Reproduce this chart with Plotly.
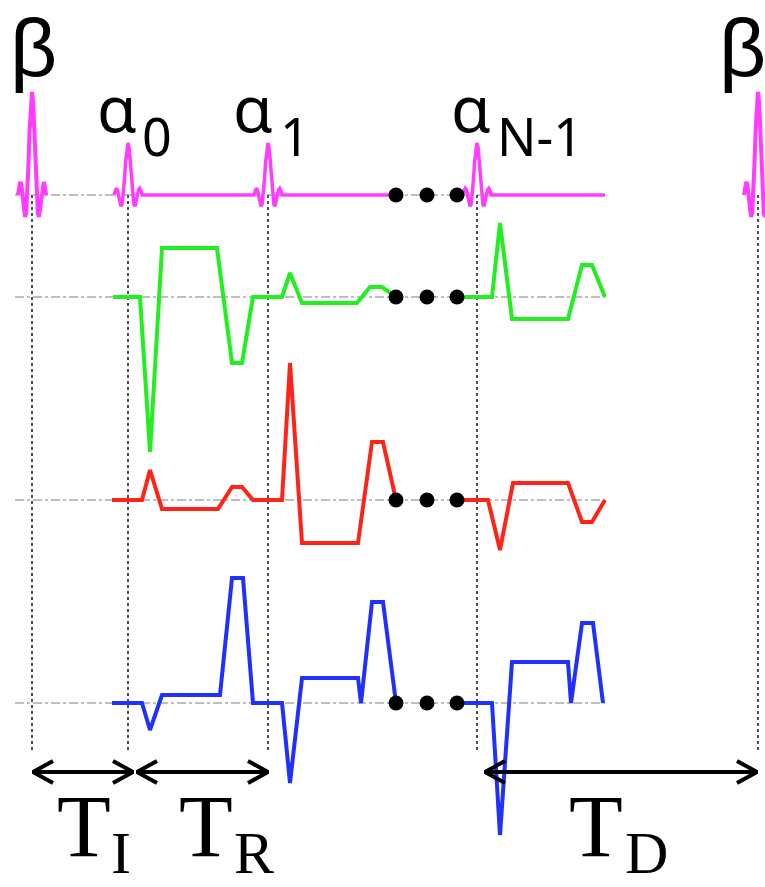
import plotly.graph_objects as go

W, H = 765, 887

# ---------------- data ----------------
# row baselines (vertical position of each channel's zero line)
row_rf, row_g1, row_g2, row_g3 = 195, 297, 500, 703

# RF pulse events: time and relative flip amplitude
pulse_t = [32, 128, 268, 477, 758]
pulse_amp = [103, 52, 52, 52, 103]
pulse_names = ["β", "α", "α", "α", "β"]

# normalized sinc pulse shape (offset units, amplitude)
shape_u = [-3, -2.75, -2.5, -2.25, -2, -1.75, -1.5, -1.25, -1, -0.75, -0.5, -0.25, 0,
           0.25, 0.5, 0.75, 1, 1.25, 1.5, 1.75, 2, 2.25, 2.5, 2.75, 3]
shape_a = [0, 0.082, 0.127, 0.100, 0, -0.129, -0.212, -0.180, 0, 0.300, 0.637, 0.900, 1,
           0.900, 0.637, 0.300, 0, -0.180, -0.212, -0.129, 0, 0.100, 0.127, 0.082, 0]

# RF line segments (start, end) joining pulses
rf_segments = [(114, 396), (457, 605)]

# gradient waveforms: time points and amplitude (positive = up)
g1_t_a = [113, 140, 150, 162, 217, 232, 242, 253, 282, 290, 302, 357, 370, 382, 396]
g1_a_a = [0, 0, -155, 49, 49, -66, -66, 0, 0, 24, -6, -6, 10, 10, 0]
g1_t_b = [457, 492, 500, 512, 568, 582, 592, 605]
g1_a_b = [0, 0, 74, -22, -22, 32, 32, 0]

g2_t_a = [112, 142, 150, 162, 218, 232, 242, 253, 282, 290, 302, 358, 372, 383, 396]
g2_a_a = [0, 0, 30, -9, -9, 13, 13, 0, 0, 137, -43, -43, 58, 58, 0]
g2_t_b = [457, 488, 500, 513, 568, 582, 592, 605]
g2_a_b = [0, 0, -50, 17, 17, -22, -22, 0]

g3_t_a = [112, 142, 150, 162, 220, 232, 243, 253, 282, 290, 302, 358, 361, 372, 383, 396]
g3_a_a = [0, 0, -27, 8, 8, 125, 125, 0, 0, -80, 25, 25, 0, 101, 101, 0]
g3_t_b = [457, 492, 500, 512, 568, 571, 582, 593, 603]
g3_a_b = [0, 0, -132, 41, 41, 0, 80, 80, 0]

# ellipsis dots
dot_t = [396, 427, 457]

# timing intervals
intervals = [("T", "I", 33, 133), ("T", "R", 137, 268), ("T", "D", 485, 757)]

# ---------------- figure ----------------
MAG = "#ff3cff"
GRN = "#22ee22"
RED = "#ff2418"
BLU = "#1f30ff"
LW = 4

fig = go.Figure()

# horizontal dotted baselines
for yb in [row_rf, row_g1, row_g2, row_g3]:
    fig.add_trace(go.Scatter(x=[15, 605], y=[yb, yb], mode="lines",
                             line=dict(color="#aaaaaa", width=1.5, dash="dashdot"),
                             hoverinfo="skip"))

# vertical dotted event lines
for t in pulse_t:
    fig.add_trace(go.Scatter(x=[t, t], y=[row_rf, 752], mode="lines",
                             line=dict(color="#505050", width=2, dash="dot"),
                             hoverinfo="skip"))

# RF pulses
px_per_u = 4.7


def pulse_xy(c, A):
    xs = [c + u * px_per_u for u in shape_u]
    ys = [row_rf - A * a for a in shape_a]
    return xs, ys


# isolated beta pulses
for i in [0, 4]:
    xs, ys = pulse_xy(pulse_t[i], pulse_amp[i])
    fig.add_trace(go.Scatter(x=xs, y=ys, mode="lines",
                             line=dict(color=MAG, width=LW), hoverinfo="skip"))

# alpha pulse train segments
for (s, e) in rf_segments:
    xs, ys = [s], [row_rf]
    for c, A in zip(pulse_t[1:4], pulse_amp[1:4]):
        if s <= c <= e:
            px, py = pulse_xy(c, A)
            xs += px
            ys += py
    xs.append(e)
    ys.append(row_rf)
    fig.add_trace(go.Scatter(x=xs, y=ys, mode="lines",
                             line=dict(color=MAG, width=LW - 0.5), hoverinfo="skip"))

# gradients
for base, col, parts in [
    (row_g1, GRN, [(g1_t_a, g1_a_a), (g1_t_b, g1_a_b)]),
    (row_g2, RED, [(g2_t_a, g2_a_a), (g2_t_b, g2_a_b)]),
    (row_g3, BLU, [(g3_t_a, g3_a_a), (g3_t_b, g3_a_b)]),
]:
    for tt, aa in parts:
        fig.add_trace(go.Scatter(x=tt, y=[base - a for a in aa], mode="lines",
                                 line=dict(color=col, width=LW, shape="linear"),
                                 hoverinfo="skip"))

# ellipsis dots
for yb in [row_rf, row_g1, row_g2, row_g3]:
    fig.add_trace(go.Scatter(x=dot_t, y=[yb] * 3, mode="markers",
                             marker=dict(color="black", size=15), hoverinfo="skip"))

# interval arrows (double-headed, open chevrons)
ay = 772
adx, ady = 20, 11
for main, sub, x0, x1 in intervals:
    fig.add_trace(go.Scatter(x=[x0, x1], y=[ay, ay], mode="lines",
                             line=dict(color="black", width=4), hoverinfo="skip"))
    fig.add_trace(go.Scatter(x=[x0 + adx, x0, x0 + adx, None, x1 - adx, x1, x1 - adx],
                             y=[ay - ady, ay, ay + ady, None, ay - ady, ay, ay + ady],
                             mode="lines", line=dict(color="black", width=4),
                             hoverinfo="skip"))

# ---------------- text ----------------
sans = "Noto Sans"
serif = "Liberation Serif"
ann = []
# beta labels
for xb in [33, 742]:
    ann.append(dict(x=xb, y=0, text="β", yanchor="top",
                    font=dict(family="Liberation Sans", size=82, color="black")))
# alpha labels with subscripts
alpha_subs = [("0", 117, 157), ("1", 253, 295), ("N-1", 471, 540)]
for sub, xa, xs in alpha_subs:
    ann.append(dict(x=xa, y=107, text="α", font=dict(family=sans, size=64, color="black")))
    ann.append(dict(x=xs, y=135, text=sub, font=dict(family=sans, size=52, color="black")))
# interval labels
tx = [(84, 121), (206, 254), (596, 646)]
for (main, sub, x0, x1), (xm, xsb) in zip(intervals, tx):
    ann.append(dict(x=xm, y=826, text=main, font=dict(family=serif, size=88, color="black")))
    ann.append(dict(x=xsb, y=853, text=sub, font=dict(family=serif, size=60, color="black")))

for a in ann:
    a.setdefault("yanchor", "middle")
    a.update(xref="x", yref="y", showarrow=False, xanchor="center")

fig.update_layout(
    width=W, height=H,
    margin=dict(l=0, r=0, t=0, b=0),
    paper_bgcolor="white", plot_bgcolor="white",
    showlegend=False,
    xaxis=dict(range=[0, W], visible=False, fixedrange=True),
    yaxis=dict(range=[H, 0], visible=False, fixedrange=True),
    annotations=ann,
)

fig.write_html("out.html", config={"displayModeBar": False},
               post_script="document.body.style.margin='0px';")
